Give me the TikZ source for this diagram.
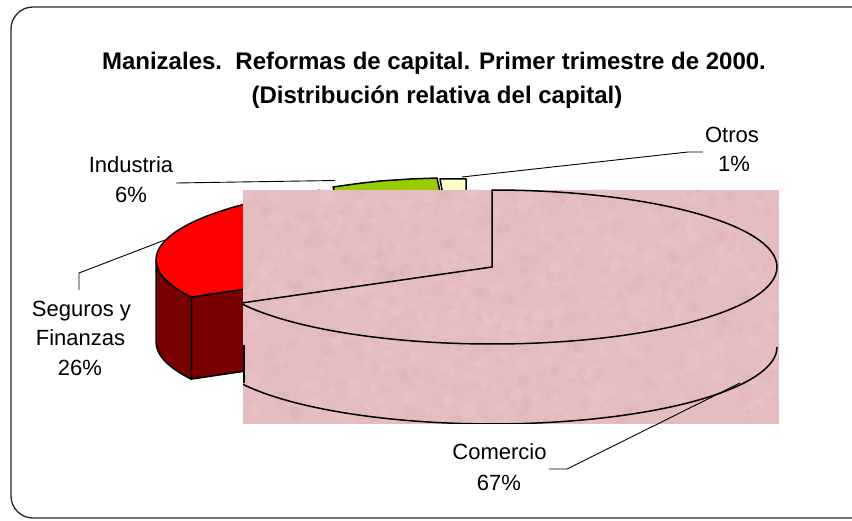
\documentclass[tikz,border=0pt]{standalone}
\usepackage{fontspec}
\setmainfont{Liberation Sans}
\definecolor{framec}{RGB}{40,40,40}
\definecolor{redtop}{RGB}{255,0,0}
\definecolor{redside}{RGB}{122,0,0}
\definecolor{greenc}{RGB}{153,204,0}
\definecolor{creamc}{RGB}{255,255,204}
\definecolor{texbase}{RGB}{229,189,192}
\definecolor{texlight}{RGB}{240,207,208}
\definecolor{texdark}{RGB}{216,170,175}
\begin{document}
\begin{tikzpicture}[x=1pt,y=1pt,
  lbl/.style={font=\fontsize{22}{26}\selectfont, inner sep=0pt, anchor=base},
  ttl/.style={font=\bfseries\fontsize{24}{28}\selectfont, inner sep=0pt, anchor=base},
  leader/.style={draw=black, line width=0.9pt},
  slice/.style={draw=black, line width=1.5pt, line join=round},
  ]
\useasboundingbox (0,0) rectangle (852,520);
\clip (0,0) rectangle (852,520);
\fill[white] (0,0) rectangle (852,520);
\draw[framec, line width=1.3pt, rounded corners=22pt] (11,2) rectangle (875,513);

% ---- remaining pie (Seguros, Industria, Otros)
\coordinate (c2) at (441,260);
\coordinate (c2b) at (441,178);
\coordinate (rA) at (191.3,222.9);
\coordinate (rAb) at (191.3,140.9);
\coordinate (rL) at (156,260);
\coordinate (rT) at (319.7,329.7);
\filldraw[fill=redside, slice] (rA) -- (c2) -- (c2b) -- (rAb) -- cycle;
\filldraw[fill=redside, slice] (rL) arc[start angle=180, end angle=208.8, x radius=285pt, y radius=77pt]
   -- (rAb) arc[start angle=208.8, end angle=180, x radius=285pt, y radius=77pt] -- cycle;
\filldraw[fill=redtop, slice] (c2) -- (rT) arc[start angle=115.2, end angle=208.8, x radius=285pt, y radius=77pt] -- cycle;
\filldraw[fill=greenc, slice] (333,333) -- (358,336.5) -- (380,339) -- (410,341) -- (437,342) -- (442,320) -- (337,320) -- cycle;
\filldraw[fill=creamc, slice] (440,341) -- (466,341) -- (466,320) -- (444,320) -- cycle;

% ---- textured Comercio area
\fill[texbase] (243,96) rectangle (779,330);
\begin{scope}
\clip (243,96) rectangle (779,330);
\pgfmathsetseed{7}
\foreach \i in {1,...,900}{
  \pgfmathsetmacro\bx{243+536*rnd}
  \pgfmathsetmacro\by{96+234*rnd}
  \pgfmathsetmacro\br{2+5*rnd}
  \pgfmathsetmacro\bc{rnd}
  \ifdim\bc pt<0.5pt
    \fill[texlight, opacity=0.22] (\bx,\by) circle[radius=\br pt];
  \else
    \fill[texdark, opacity=0.18] (\bx,\by) circle[radius=\br pt];
  \fi
}
\coordinate (c1) at (492,253);
\coordinate (c1top) at (492,330);
\coordinate (cLb) at (240.4,136.9);
\coordinate (sideT) at (244,175);
\coordinate (sideB) at (244,136.9);
\draw[slice] (c1) -- (c1top) arc[start angle=90, end angle=-152, x radius=285pt, y radius=77pt] -- cycle;
\draw[slice] (cLb) arc[start angle=-152, end angle=0, x radius=285pt, y radius=77pt];
\draw[slice] (sideT) -- (sideB);
\end{scope}

% ---- title
\node[ttl] (t1) at (434,450) {Manizales.\ \ Reformas de capital. Primer trimestre de 2000.};
\node[ttl] (t2) at (437,416) {(Distribución relativa del capital)};

% ---- labels
\node[lbl] (ind1) at (131,347) {Industria};
\node[lbl] (ind2) at (131,317.5) {6\%};
\node[lbl] (otr1) at (732,377) {Otros};
\node[lbl] (otr2) at (734,348) {1\%};
\node[lbl] (seg1) at (81.5,203) {Seguros y};
\node[lbl] (seg2) at (80.5,174) {Finanzas};
\node[lbl] (seg3) at (80,144) {26\%};
\node[lbl] (com1) at (499.5,60) {Comercio};
\node[lbl] (com2) at (499,30) {67\%};

% ---- leader lines
\coordinate (indA) at (176,337);
\coordinate (indB) at (335,339.5);
\coordinate (otrA) at (703,368);
\coordinate (otrB) at (688,368);
\coordinate (otrC) at (462,343);
\coordinate (segA) at (79,230);
\coordinate (segB) at (79,247);
\coordinate (segC) at (165,280);
\coordinate (comA) at (549,51);
\coordinate (comB) at (567,51);
\coordinate (comC) at (740,137);
\draw[leader] (indA) -- (indB);
\draw[leader] (otrA) -- (otrB) -- (otrC);
\draw[leader] (segA) -- (segB) -- (segC);
\draw[leader] (comA) -- (comB) -- (comC);
\end{tikzpicture}
\end{document}
